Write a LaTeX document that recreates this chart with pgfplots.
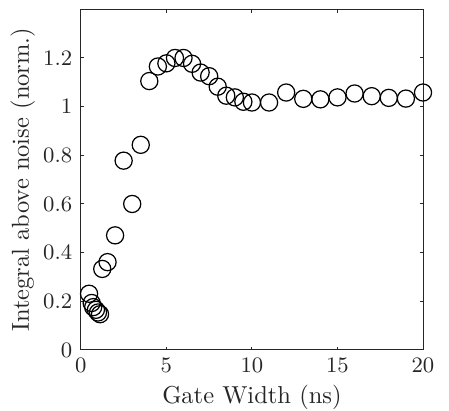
\documentclass[border=0pt]{standalone}
\usepackage{pgfplots}
\pgfplotsset{compat=1.18}
\definecolor{axgray}{gray}{0.15}
\begin{document}
\begin{tikzpicture}
\begin{axis}[name=ax, scale only axis, width=139.6pt, height=139.0pt,
  xmin=0, xmax=20, ymin=0, ymax=1.4,
  xtick={0,5,10,15,20}, ytick={0,0.2,0.4,0.6,0.8,1,1.2},
  yticklabels={0,0.2,0.4,0.6,0.8,1,1.2},
  tick align=inside, major tick length=1.4pt,
  axis line style={axgray, line width=0.4pt},
  every tick/.style={axgray, line width=0.4pt},
  tick label style={font=\fontsize{9}{10}\selectfont, text=axgray},
  label style={font=\fontsize{10}{12}\selectfont, text=axgray},
  xlabel={Gate Width (ns)}, ylabel={Integral above noise (norm.)},
  xlabel style={yshift=2pt},
  ylabel style={yshift=-3.5pt},
]
\addplot[only marks, mark=o, mark size=3.5pt, line width=0.5pt, black] coordinates {
(0.48,0.231) (0.63,0.193) (0.72,0.176) (0.88,0.165) (1.0,0.154) (1.12,0.147)
(1.25,0.333) (1.56,0.361) (2.0,0.471) (2.5,0.778) (3.0,0.60) (3.5,0.843)
(4.0,1.105) (4.5,1.165) (5.0,1.178) (5.5,1.200) (6.0,1.200) (6.5,1.176)
(7.0,1.140) (7.5,1.125) (8.0,1.082) (8.5,1.045) (9.0,1.038) (9.5,1.020)
(10.0,1.017) (11.0,1.017) (12.0,1.058) (13.0,1.032) (14.0,1.030) (15.0,1.038)
(16.0,1.054) (17.0,1.043) (18.0,1.036) (19.0,1.033) (20.0,1.058)
};
\end{axis}
\pgfresetboundingbox
\path[use as bounding box] ([shift={(-33pt,-24.5pt)}]ax.south west) rectangle ([shift={(10.6pt,3.8pt)}]ax.north east);
\end{tikzpicture}
\end{document}
